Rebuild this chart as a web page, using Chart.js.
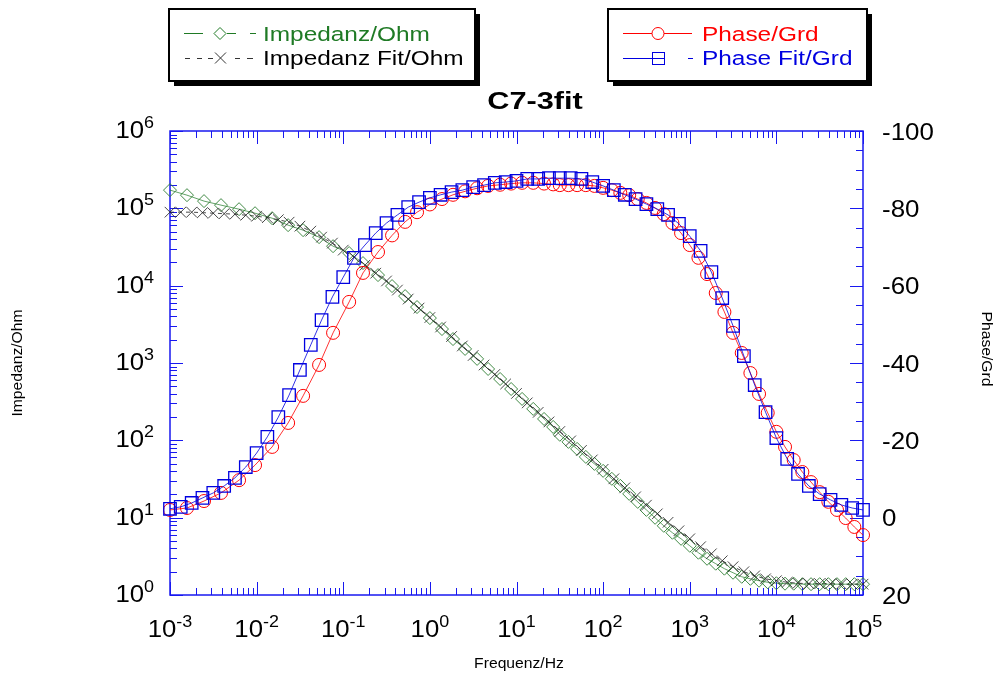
<!DOCTYPE html>
<html lang="de">

<head>
    <meta charset="utf-8">
    <title>C7-3fit</title>
    <script src="https://cdn.jsdelivr.net/npm/chart.js@4.4.0/dist/chart.umd.min.js"></script>
    <style>
        html, body { margin: 0; padding: 0; background: #fff; }
        #wrap { width: 1001px; height: 679px; }
    </style>
</head>

<body>
    <div id="wrap"><canvas id="myChart" width="1001" height="679"></canvas></div>

    <script>
        // gemessene Frequenzen (Hz)
        var freqMess = [0.001, 0.00157, 0.00247, 0.00388, 0.00627, 0.00959, 0.0151, 0.0231, 0.0344, 0.0526,
            0.0763, 0.117, 0.169, 0.252, 0.366, 0.518, 0.711, 1.0,
            1.38, 1.85, 2.55, 3.51, 4.70, 6.47, 8.67, 11.6, 15.6, 20.8,
            26.5, 31.6, 39.8, 50.1, 63.1, 79.4, 100,
            126, 158, 200, 251, 316, 398, 501, 631, 794, 1000,
            1259, 1585, 1995, 2512, 3162, 3981, 5012, 6310, 7943, 10000,
            12589, 15849, 19953, 25119, 31623, 39811, 50119, 63096, 79433, 100000];

        // Impedanz/Ohm (Messung)
        var impedanz = [172000, 148000, 124000, 110000, 97500, 86500, 74600, 60600, 52200, 42400,
            32400, 26400, 19600, 13700, 9880, 7330, 5290, 3810,
            2750, 2040, 1520, 1130, 837, 621, 461, 343, 255, 189,
            149, 118, 95.5, 77.5, 61.1, 49.6, 40.3,
            31.8, 25.8, 20.3, 16.0, 12.6, 9.96, 7.85, 6.38, 5.33, 4.33,
            3.52, 2.94, 2.54, 2.19, 1.94, 1.72, 1.62, 1.53, 1.46, 1.42,
            1.40, 1.40, 1.38, 1.38, 1.38, 1.38, 1.38, 1.38, 1.38, 1.38];

        // Phase/Grd (Messung)
        var phase = [-2.0, -2.5, -4.3, -6.4, -9.7, -13.6, -18.3, -24.5, -31.5, -39.5,
            -47.8, -55.8, -63.3, -68.7, -73.0, -76.5, -79.0, -81.0,
            -82.4, -83.5, -84.4, -85.2, -85.8, -86.1, -86.4, -86.6, -86.6, -86.4,
            -86.2, -86.0, -86.0, -86.0, -86.0, -85.8, -85.3,
            -84.7, -84.0, -83.4, -82.4, -81.4, -80.1, -78.5, -76.2, -73.6, -70.5,
            -67.2, -63.0, -58.1, -53.2, -47.8, -42.6, -37.4, -32.0, -27.1, -22.2,
            -18.3, -14.9, -11.8, -9.2, -6.6, -4.1, -2.0, 0.1, 2.4, 4.5];

        // Frequenzen der Fitkurve (Hz)
        var freqFit = [0.001, 0.00133, 0.00178, 0.00237, 0.00316, 0.00422, 0.00562, 0.0075,
            0.01, 0.0133, 0.0178, 0.0237, 0.0316, 0.0422, 0.0562, 0.075,
            0.1, 0.133, 0.178, 0.237, 0.316, 0.422, 0.562, 0.75,
            1, 1.33, 1.78, 2.37, 3.16, 4.22, 5.62, 7.5,
            10, 13.3, 17.8, 23.7, 31.6, 42.2, 56.2, 75,
            100, 133, 178, 237, 316, 422, 562, 750,
            1000, 1334, 1778, 2371, 3162, 4217, 5623, 7499,
            10000, 13335, 17783, 23714, 31623, 42170, 56234, 74989, 100000];

        // Impedanz Fit/Ohm
        var impedanzFit = [89200, 89200, 89200, 87900, 86500, 85300, 84000, 81500,
            79100, 75700, 71300, 66200, 58800, 50700, 42400, 35500,
            28800, 23400, 18400, 14500, 11500, 8770, 6710, 5130,
            3870, 2920, 2200, 1660, 1250, 942, 711, 536,
            404, 305, 230, 173, 130, 98.4, 74.1, 55.8,
            42.2, 31.8, 24.3, 18.6, 14.5, 11.2, 8.71, 6.77,
            5.33, 4.21, 3.41, 2.77, 2.32, 2.00, 1.77, 1.62,
            1.53, 1.46, 1.42, 1.40, 1.40, 1.40, 1.38, 1.38, 1.38];

        // Phase Fit/Grd
        var phaseFit = [-2.3, -2.8, -3.8, -5.1, -6.4, -8.2, -10.3, -13.1,
            -16.7, -20.9, -26.0, -31.7, -38.2, -44.7, -51.1, -57.1,
            -62.2, -67.2, -70.5, -73.6, -76.2, -78.3, -80.3, -81.6,
            -82.7, -83.5, -84.2, -84.7, -85.5, -86.0, -86.6, -86.8,
            -87.1, -87.6, -87.6, -87.8, -87.8, -87.8, -87.6, -86.8,
            -85.8, -84.7, -83.5, -82.4, -81.1, -79.8, -78.3, -76.0,
            -72.8, -69.0, -63.5, -56.8, -49.6, -41.8, -34.3, -27.3,
            -20.6, -15.2, -11.3, -8.2, -6.1, -4.6, -3.3, -2.5, -2.0];

        // Achsenbeschriftung
        var xExponenten = [-3, -2, -1, 0, 1, 2, 3, 4, 5];
        var yExponenten = [0, 1, 2, 3, 4, 5, 6];
        var phaseTicks = [-100, -80, -60, -40, -20, 0, 20];
        var minorTicks = [2, 3, 4, 5, 6, 7, 8, 9];

        var ACHSE = '#1818f0';
        var GRUEN = '#1f7a25';
        var ROT = '#ff0000';
        var BLAU = '#0000e0';
        var FONT = '"Liberation Sans", Arial, Helvetica, sans-serif';

        function punkte(xs, ys) {
            return xs.map(function (x, i) { return { x: x, y: ys[i] }; });
        }

        // Text mit horizontaler Streckung (die Vorlage hat breite Schrift)
        function text(ctx, s, x, y, size, color, align, sx, bold) {
            ctx.save();
            ctx.font = (bold ? 'bold ' : '') + size + 'px ' + FONT;
            ctx.fillStyle = color;
            ctx.textBaseline = 'alphabetic';
            var w = ctx.measureText(s).width * sx;
            var x0 = align === 'right' ? x - w : (align === 'center' ? x - w / 2 : x);
            ctx.translate(x0, y);
            ctx.scale(sx, 1);
            ctx.fillText(s, 0, 0);
            ctx.restore();
            return w;
        }

        function breite(ctx, s, size, sx) {
            ctx.save();
            ctx.font = size + 'px ' + FONT;
            var w = ctx.measureText(s).width * sx;
            ctx.restore();
            return w;
        }

        // 10 hoch e
        function potenz(ctx, e, x, y, align) {
            var sx = 1.12;
            var exp = e < 0 ? '-' + (-e) : '' + e;
            var w1 = breite(ctx, '10', 23, sx);
            var w2 = breite(ctx, exp, 16, sx);
            var x0 = align === 'right' ? x - w1 - w2 : x - (w1 + w2) / 2;
            text(ctx, '10', x0, y, 23, '#000', 'left', sx);
            text(ctx, exp, x0 + w1, y - 10, 16, '#000', 'left', sx);
        }

        function raute(ctx, x, y, r) {
            ctx.beginPath();
            ctx.moveTo(x - r, y); ctx.lineTo(x, y - r); ctx.lineTo(x + r, y); ctx.lineTo(x, y + r);
            ctx.closePath();
        }

        var rahmenPlugin = {
            id: 'rahmen',
            beforeDatasetsDraw: function (chart) {
                var ctx = chart.ctx, a = chart.chartArea;
                var sx = chart.scales.x, sy = chart.scales.y, sp = chart.scales.y2;
                ctx.save();
                ctx.strokeStyle = ACHSE;
                ctx.lineWidth = 1;
                ctx.beginPath();
                // x Achse unten und oben
                xExponenten.forEach(function (e) {
                    [1].concat(minorTicks).forEach(function (m) {
                        var v = m * Math.pow(10, e);
                        if (v > 1e5) return;
                        var px = Math.round(sx.getPixelForValue(v)) + 0.5;
                        var len = m === 1 ? 13 : 7;
                        ctx.moveTo(px, a.bottom); ctx.lineTo(px, a.bottom - len);
                        ctx.moveTo(px, a.top); ctx.lineTo(px, a.top + len);
                    });
                });
                // linke Achse
                yExponenten.forEach(function (e) {
                    [1].concat(minorTicks).forEach(function (m) {
                        var v = m * Math.pow(10, e);
                        if (v > 1e6) return;
                        var py = Math.round(sy.getPixelForValue(v)) + 0.5;
                        var len = m === 1 ? 13 : 7;
                        ctx.moveTo(a.left, py); ctx.lineTo(a.left + len, py);
                    });
                });
                // rechte Achse, alle 5 Grad
                for (var v = -100; v <= 20; v += 5) {
                    var py = Math.round(sp.getPixelForValue(v)) + 0.5;
                    var len = phaseTicks.indexOf(v) >= 0 ? 13 : 7;
                    ctx.moveTo(a.right, py); ctx.lineTo(a.right - len, py);
                }
                ctx.stroke();
                ctx.lineWidth = 1.5;
                ctx.strokeRect(a.left, a.top, a.right - a.left, a.bottom - a.top);
                ctx.restore();
            },
            afterDraw: function (chart) {
                var ctx = chart.ctx, a = chart.chartArea;
                var sx = chart.scales.x, sy = chart.scales.y, sp = chart.scales.y2;

                // Beschriftung der Achsen
                xExponenten.forEach(function (e) {
                    potenz(ctx, e, sx.getPixelForValue(Math.pow(10, e)), 637, 'center');
                });
                yExponenten.forEach(function (e) {
                    potenz(ctx, e, 154, sy.getPixelForValue(Math.pow(10, e)) + 7, 'right');
                });
                phaseTicks.forEach(function (v) {
                    text(ctx, '' + v, 882, sp.getPixelForValue(v) + 8.5, 24, '#000', 'left', 1.08);
                });

                text(ctx, 'Frequenz/Hz', 519, 668, 14, '#000', 'center', 1.12);
                ctx.save();
                ctx.translate(22, 363);
                ctx.rotate(-Math.PI / 2);
                text(ctx, 'Impedanz/Ohm', 0, 0, 14, '#000', 'center', 1.12);
                ctx.restore();
                ctx.save();
                ctx.translate(982, 349);
                ctx.rotate(Math.PI / 2);
                text(ctx, 'Phase/Grd', 0, 0, 14, '#000', 'center', 1.12);
                ctx.restore();

                // Titel
                text(ctx, 'C7-3fit', 535, 109, 24, '#000', 'center', 1.28, true);

                // Legendenkaesten mit Schatten
                function kasten(x1, y1, x2, y2) {
                    ctx.save();
                    ctx.fillStyle = '#000';
                    ctx.fillRect(x1 + 5, y1 + 5, x2 - x1, y2 - y1);
                    ctx.fillStyle = '#fff';
                    ctx.fillRect(x1, y1, x2 - x1, y2 - y1);
                    ctx.strokeStyle = '#000';
                    ctx.lineWidth = 2;
                    ctx.strokeRect(x1, y1, x2 - x1, y2 - y1);
                    ctx.restore();
                }
                function strich(x1, x2, y, color) {
                    ctx.beginPath();
                    ctx.strokeStyle = color;
                    ctx.lineWidth = 1;
                    ctx.moveTo(x1, y + 0.5); ctx.lineTo(x2, y + 0.5);
                    ctx.stroke();
                }
                kasten(169, 9, 475, 81);
                kasten(608, 9, 867, 81);

                ctx.save();
                // Impedanz
                strich(184, 203, 33, GRUEN);
                strich(227, 236, 33, GRUEN);
                strich(250, 256, 33, GRUEN);
                ctx.strokeStyle = GRUEN;
                raute(ctx, 220, 33.5, 6);
                ctx.stroke();
                text(ctx, 'Impedanz/Ohm', 263, 41, 20.5, GRUEN, 'left', 1.19);

                // Impedanz Fit
                [[185, 190], [197, 202], [208, 213], [235, 240], [247, 253]].forEach(function (d) {
                    strich(d[0], d[1], 58, '#333');
                });
                ctx.strokeStyle = '#333';
                ctx.beginPath();
                ctx.moveTo(215, 52.5); ctx.lineTo(226, 63.5);
                ctx.moveTo(226, 52.5); ctx.lineTo(215, 63.5);
                ctx.stroke();
                text(ctx, 'Impedanz Fit/Ohm', 263, 65, 20.5, '#000', 'left', 1.19);

                // Phase
                strich(623, 652, 33, ROT);
                strich(664, 692, 33, ROT);
                ctx.strokeStyle = ROT;
                ctx.beginPath();
                ctx.arc(658, 33.5, 6, 0, Math.PI * 2);
                ctx.stroke();
                text(ctx, 'Phase/Grd', 702, 41, 20.5, ROT, 'left', 1.19);

                // Phase Fit
                strich(623, 652, 58, BLAU);
                strich(688, 693, 58, BLAU);
                ctx.strokeStyle = BLAU;
                ctx.strokeRect(652.5, 52.5, 12, 12);
                ctx.beginPath();
                ctx.moveTo(652.5, 58.5); ctx.lineTo(664.5, 58.5);
                ctx.stroke();
                text(ctx, 'Phase Fit/Grd', 702, 65, 20.5, BLAU, 'left', 1.19);
                ctx.restore();
            }
        };

        var ctx = document.getElementById('myChart').getContext('2d');

        var myChart = new Chart(ctx, {
            type: 'line',
            data: {
                datasets: [{
                    label: 'Phase Fit/Grd',
                    data: punkte(freqFit, phaseFit),
                    yAxisID: 'y2',
                    order: 0,
                    borderColor: 'rgba(0,0,224,0.8)',
                    borderWidth: 1,
                    pointStyle: 'rect',
                    pointRadius: 8.8,
                    pointBorderColor: BLAU,
                    pointBorderWidth: 1.3,
                    pointBackgroundColor: 'rgba(0,0,0,0)',
                    clip: false
                }, {
                    label: 'Phase/Grd',
                    data: punkte(freqMess, phase),
                    yAxisID: 'y2',
                    order: 1,
                    borderColor: 'rgba(255,0,0,0.8)',
                    borderWidth: 1,
                    pointStyle: 'circle',
                    pointRadius: 6.5,
                    pointBorderColor: ROT,
                    pointBorderWidth: 1,
                    pointBackgroundColor: 'rgba(0,0,0,0)',
                    clip: false
                }, {
                    label: 'Impedanz Fit/Ohm',
                    data: punkte(freqFit, impedanzFit),
                    yAxisID: 'y',
                    order: 2,
                    borderColor: 'rgba(30,30,30,0.8)',
                    borderWidth: 1,
                    borderDash: [4, 4],
                    pointStyle: 'crossRot',
                    pointRadius: 7.5,
                    pointBorderColor: 'rgba(40,40,40,0.85)',
                    pointBorderWidth: 1,
                    clip: false
                }, {
                    label: 'Impedanz/Ohm',
                    data: punkte(freqMess, impedanz),
                    yAxisID: 'y',
                    order: 3,
                    borderColor: 'rgba(31,122,37,0.7)',
                    borderWidth: 1,
                    pointStyle: 'rectRot',
                    pointRadius: 6.5,
                    pointBorderColor: 'rgba(45,125,50,0.9)',
                    pointBorderWidth: 1,
                    pointBackgroundColor: 'rgba(0,0,0,0)',
                    clip: false
                }]
            },
            options: {
                responsive: false,
                animation: false,
                events: [],
                layout: { padding: { top: 131, left: 0, right: 0, bottom: 0 }, autoPadding: false },
                plugins: {
                    legend: { display: false },
                    title: { display: false },
                    tooltip: { enabled: false }
                },
                elements: { line: { tension: 0 } },
                scales: {
                    x: {
                        type: 'logarithmic', position: 'bottom', min: 1e-3, max: 1e5,
                        ticks: { display: false }, grid: { display: false }, border: { display: false },
                        afterFit: function (s) { s.height = 84; }
                    },
                    y: {
                        type: 'logarithmic', position: 'left', min: 1, max: 1e6,
                        ticks: { display: false }, grid: { display: false }, border: { display: false },
                        afterFit: function (s) { s.width = 170; }
                    },
                    y2: {
                        type: 'linear', position: 'right', min: -100, max: 20, reverse: true,
                        ticks: { display: false }, grid: { display: false }, border: { display: false },
                        afterFit: function (s) { s.width = 138; }
                    }
                }
            },
            plugins: [rahmenPlugin]
        });
    </script>
</body>

</html>
